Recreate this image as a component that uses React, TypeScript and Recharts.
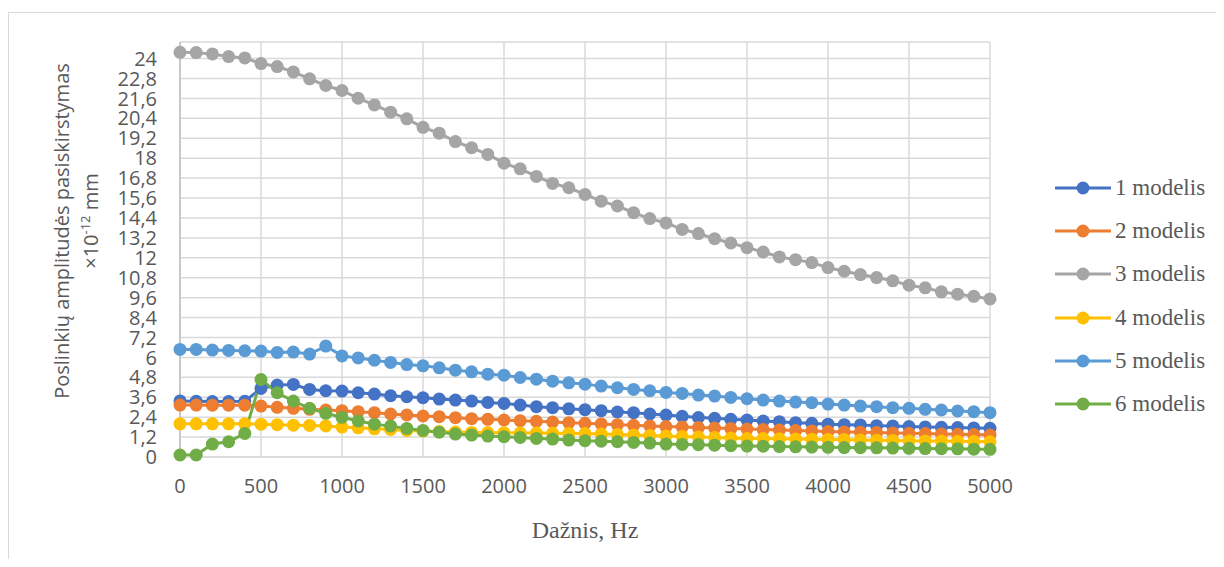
import { CartesianGrid, Legend, Line, LineChart, XAxis, YAxis } from "recharts";

const freq = [
  0, 100, 200, 300, 400, 500, 600, 700, 800, 900, 1000, 1100, 1200, 1300, 1400,
  1500, 1600, 1700, 1800, 1900, 2000, 2100, 2200, 2300, 2400, 2500, 2600, 2700,
  2800, 2900, 3000, 3100, 3200, 3300, 3400, 3500, 3600, 3700, 3800, 3900, 4000,
  4100, 4200, 4300, 4400, 4500, 4600, 4700, 4800, 4900, 5000,
];

const model1 = [
  3.38, 3.36, 3.34, 3.34, 3.36, 4.13, 4.33, 4.37, 4.07, 3.99, 3.97, 3.87, 3.79,
  3.69, 3.63, 3.57, 3.49, 3.43, 3.37, 3.29, 3.23, 3.13, 3.03, 2.97, 2.9, 2.85,
  2.79, 2.71, 2.67, 2.59, 2.53, 2.45, 2.38, 2.33, 2.27, 2.23, 2.17, 2.13, 2.07,
  2.03, 1.98, 1.95, 1.93, 1.89, 1.87, 1.83, 1.81, 1.79, 1.77, 1.75, 1.73,
];

const model2 = [
  3.13, 3.13, 3.12, 3.12, 3.12, 3.07, 2.99, 2.93, 2.87, 2.83, 2.79, 2.73, 2.67,
  2.59, 2.53, 2.47, 2.43, 2.37, 2.31, 2.27, 2.23, 2.19, 2.15, 2.11, 2.07, 2.03,
  1.99, 1.95, 1.91, 1.87, 1.83, 1.8, 1.77, 1.74, 1.71, 1.68, 1.65, 1.62, 1.59,
  1.56, 1.53, 1.51, 1.49, 1.47, 1.45, 1.43, 1.41, 1.39, 1.37, 1.35, 1.32,
];

const model3 = [
  24.38, 24.36, 24.28, 24.12, 24.04, 23.7, 23.52, 23.2, 22.78, 22.38, 22.08,
  21.61, 21.21, 20.77, 20.37, 19.86, 19.51, 19.0, 18.63, 18.23, 17.7, 17.36,
  16.9, 16.48, 16.22, 15.82, 15.41, 15.12, 14.72, 14.36, 14.1, 13.71, 13.46,
  13.15, 12.89, 12.61, 12.35, 12.05, 11.89, 11.71, 11.41, 11.19, 10.99, 10.81,
  10.61, 10.35, 10.19, 9.95, 9.81, 9.68, 9.52,
];

const model4 = [
  2.0, 2.0, 2.0, 2.0, 2.0, 1.98, 1.95, 1.92, 1.9, 1.87, 1.8, 1.76, 1.7, 1.66,
  1.6, 1.56, 1.53, 1.5, 1.48, 1.47, 1.46, 1.45, 1.44, 1.43, 1.42, 1.41, 1.38,
  1.35, 1.32, 1.29, 1.26, 1.23, 1.2, 1.17, 1.14, 1.12, 1.11, 1.1, 1.08, 1.07,
  1.06, 1.05, 1.03, 1.01, 1.0, 0.98, 0.97, 0.96, 0.95, 0.93, 0.92,
];

const model5 = [
  6.48, 6.48, 6.44, 6.42, 6.4, 6.38, 6.3, 6.32, 6.2, 6.68, 6.09, 5.97, 5.83,
  5.7, 5.57, 5.49, 5.37, 5.23, 5.13, 4.99, 4.93, 4.79, 4.69, 4.57, 4.47, 4.39,
  4.27, 4.17, 4.07, 3.99, 3.89, 3.83, 3.73, 3.67, 3.59, 3.51, 3.43, 3.37, 3.31,
  3.27, 3.19, 3.13, 3.07, 3.03, 2.97, 2.93, 2.87, 2.83, 2.77, 2.73, 2.67,
];

const model6 = [
  0.12, 0.12, 0.78, 0.92, 1.42, 4.67, 3.87, 3.37, 2.93, 2.63, 2.39, 2.17, 1.98,
  1.86, 1.72, 1.6, 1.49, 1.38, 1.32, 1.26, 1.22, 1.18, 1.12, 1.08, 1.02, 0.98,
  0.95, 0.92, 0.88, 0.84, 0.78, 0.76, 0.74, 0.71, 0.68, 0.66, 0.65, 0.63, 0.61,
  0.6, 0.58, 0.57, 0.56, 0.55, 0.54, 0.52, 0.51, 0.5, 0.49, 0.47, 0.46,
];

const xTicks = [0, 500, 1000, 1500, 2000, 2500, 3000, 3500, 4000, 4500, 5000];
const yTicks = [
  0, 1.2, 2.4, 3.6, 4.8, 6, 7.2, 8.4, 9.6, 10.8, 12, 13.2, 14.4, 15.6, 16.8, 18,
  19.2, 20.4, 21.6, 22.8, 24,
];

const series = [
  { key: "m1", name: "1 modelis", color: "#4472C4", values: model1 },
  { key: "m2", name: "2 modelis", color: "#ED7D31", values: model2 },
  { key: "m3", name: "3 modelis", color: "#A5A5A5", values: model3 },
  { key: "m4", name: "4 modelis", color: "#FFC000", values: model4 },
  { key: "m5", name: "5 modelis", color: "#5B9BD5", values: model5 },
  { key: "m6", name: "6 modelis", color: "#70AD47", values: model6 },
];

const data = freq.map((f, i) => {
  const row: Record<string, number> = { f };
  series.forEach((s) => {
    row[s.key] = s.values[i];
  });
  return row;
});

const textGray = "#595959";
const tickFont = { fontFamily: "'Open Sans', sans-serif", fontSize: 20, fill: textGray };

function LegendList(props: any) {
  const items = props.payload || [];
  return (
    <div style={{ fontFamily: "'Liberation Serif', serif", fontSize: 23, color: textGray }}>
      {items.map((it: any) => (
        <div key={it.value} style={{ display: "flex", alignItems: "center", height: 43.3 }}>
          <svg width={58} height={16} style={{ marginRight: 2 }}>
            <line x1={0} y1={8} x2={56} y2={8} stroke={it.color} strokeWidth={3} />
            <circle cx={28} cy={8} r={6.5} fill={it.color} />
          </svg>
          <span>{it.value}</span>
        </div>
      ))}
    </div>
  );
}

export default function App() {
  return (
    <div style={{ position: "relative", width: 1216, height: 551, overflow: "hidden", background: "#fff" }}>
      <div
        style={{
          position: "absolute",
          left: 0,
          top: 4,
          width: 1240,
          height: 600,
          border: "1px solid #d9d9d9",
        }}
      />
      <LineChart
        width={1216}
        height={551}
        data={data}
        margin={{ top: 34, right: 234, bottom: 32, left: 92 }}
        style={{ position: "absolute", left: 0, top: 0 }}
      >
        <CartesianGrid stroke="#d9d9d9" strokeWidth={1.5} />
        <XAxis
          dataKey="f"
          type="number"
          domain={[0, 5000]}
          ticks={xTicks}
          tickLine={false}
          tickSize={0}
          tickMargin={22}
          axisLine={{ stroke: "#d9d9d9", strokeWidth: 1.5 }}
          tick={tickFont}
          height={70}
        />
        <YAxis
          type="number"
          domain={[0, 25]}
          ticks={yTicks}
          interval={0}
          tickLine={false}
          tickSize={0}
          tickMargin={23}
          axisLine={{ stroke: "#bfbfbf", strokeWidth: 1.5 }}
          tick={tickFont}
          tickFormatter={(v: number) => String(v).replace(".", ",")}
          width={80}
        />
        <Legend
          layout="vertical"
          align="center"
          verticalAlign="middle"
          wrapperStyle={{ left: 1047, top: 158, width: 170 }}
          content={LegendList}
        />
        {series.map((s) => (
          <Line
            key={s.key}
            dataKey={s.key}
            name={s.name}
            type="linear"
            stroke={s.color}
            strokeWidth={3}
            dot={{ r: 6.5, fill: s.color, stroke: "none" }}
            activeDot={false}
            isAnimationActive={false}
          />
        ))}
      </LineChart>
      <div
        style={{
          position: "absolute",
          left: 52.7,
          top: 223,
          transform: "translate(-50%, -50%) rotate(-90deg)",
          whiteSpace: "nowrap",
          fontFamily: "'Open Sans', sans-serif",
          fontSize: 20,
          color: textGray,
        }}
      >
        Poslinkių amplitudės pasiskirstymas
      </div>
      <div
        style={{
          position: "absolute",
          left: 82,
          top: 213,
          transform: "translate(-50%, -50%) rotate(-90deg)",
          whiteSpace: "nowrap",
          fontFamily: "'Open Sans', sans-serif",
          fontSize: 20,
          color: textGray,
        }}
      >
        ×10<sup style={{ fontSize: 13 }}>-12</sup> mm
      </div>
      <div
        style={{
          position: "absolute",
          left: 577,
          top: 522,
          transform: "translate(-50%, -50%)",
          whiteSpace: "nowrap",
          fontFamily: "'Liberation Serif', serif",
          fontSize: 24,
          color: textGray,
        }}
      >
        Dažnis, Hz
      </div>
    </div>
  );
}
